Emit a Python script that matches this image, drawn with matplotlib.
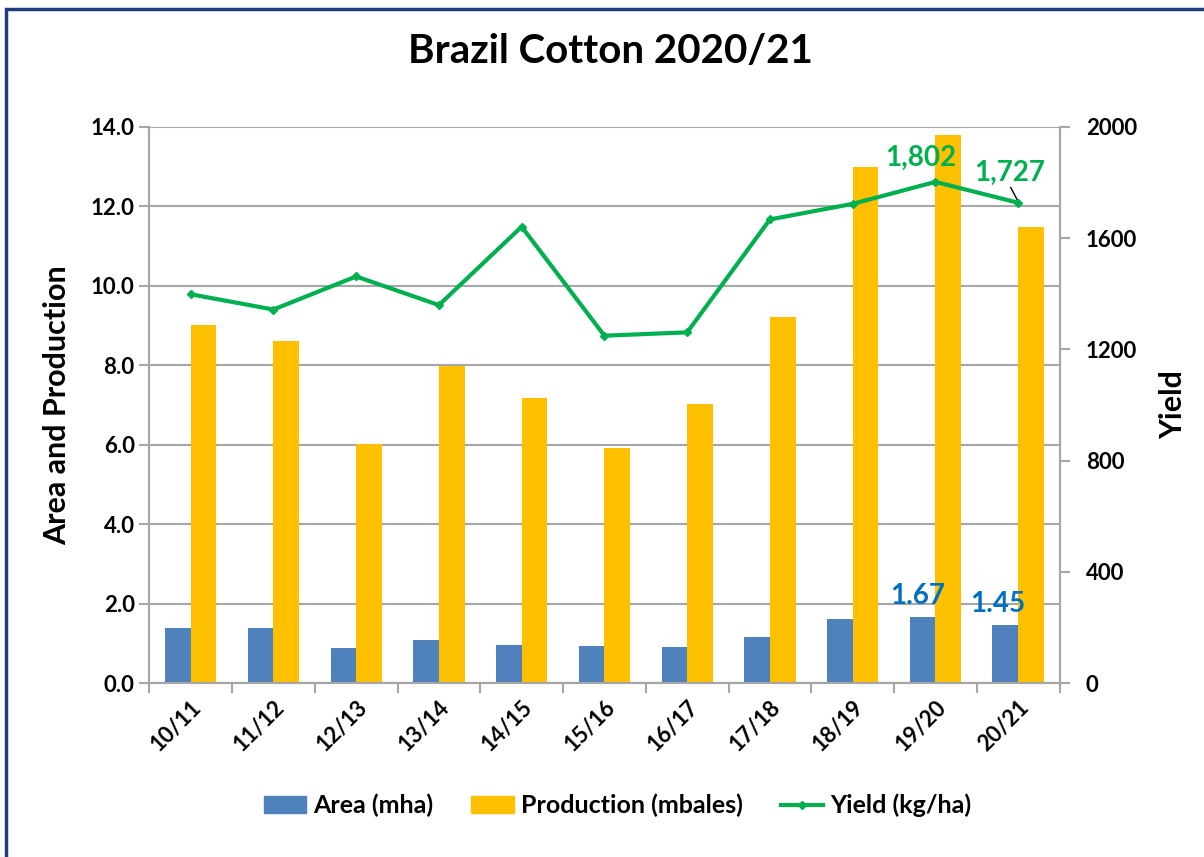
import numpy as np
import matplotlib.pyplot as plt
from matplotlib.lines import Line2D
from matplotlib.patches import Rectangle

plt.rcParams['font.family'] = ['Lato', 'DejaVu Sans']

seasons = ['10/11', '11/12', '12/13', '13/14', '14/15', '15/16',
           '16/17', '17/18', '18/19', '19/20', '20/21']
area = [1.38, 1.38, 0.87, 1.09, 0.96, 0.94, 0.91, 1.16, 1.61, 1.67, 1.45]
production = [9.0, 8.6, 6.01, 7.97, 7.18, 5.92, 7.02, 9.21, 13.0, 13.79, 11.49]
yield_kg = [1398, 1343, 1462, 1359, 1641, 1249, 1261, 1667, 1723, 1802, 1727]

blue = '#4f81bd'
gold = '#ffc000'
green = '#00b050'
grid_c = '#a6a6a6'

fig = plt.figure(figsize=(12.04, 8.57), dpi=100)
ax = fig.add_axes([0.124, 0.203, 0.756, 0.649])
ax2 = ax.twinx()

x = np.arange(len(seasons))
w = 0.31
ax.bar(x - w / 2, area, w, color=blue, zorder=2, label='Area (mha)')
ax.bar(x + w / 2, production, w, color=gold, zorder=2, label='Production (mbales)')
ax2.plot(x, yield_kg, color=green, lw=3, marker='D', ms=4, zorder=3, label='Yield (kg/ha)')

ax.set_xlim(-0.5, len(seasons) - 0.5)
ax.set_ylim(0, 14)
ax.set_yticks(np.arange(0, 14.1, 2))
ax.set_yticklabels([f'{v:.1f}' for v in np.arange(0, 14.1, 2)])
ax2.set_ylim(0, 2000)
ax2.set_yticks(range(0, 2001, 400))

ax.yaxis.grid(True, color=grid_c, lw=1.5, zorder=0)
ax.set_axisbelow(True)
for a in (ax, ax2):
    for s in a.spines.values():
        s.set_color(grid_c)
        s.set_linewidth(1.5)
    a.spines['top'].set_visible(False)
    a.tick_params(colors=grid_c, labelcolor='black', labelsize=16, width=1.5, length=7)
    for t in a.get_yticklabels():
        t.set_fontweight('bold')
ax2.tick_params(pad=12)

ax.set_xticks(np.arange(len(seasons) + 1) - 0.5, minor=False)
ax.set_xticklabels([''] * (len(seasons) + 1))
ax.set_xticks(x, minor=True)
ax.set_xticklabels(seasons, minor=True, rotation=45, ha='right', rotation_mode='anchor',
                   fontsize=16, fontweight='bold')
ax.tick_params(axis='x', which='minor', length=0, pad=10)
ax.tick_params(axis='x', which='major', length=7, direction='out')

ax.set_ylabel('Area and Production', fontsize=22, fontweight='bold', labelpad=14)
ax2.set_ylabel('Yield', fontsize=22, fontweight='bold', labelpad=16)
fig.text(0.507, 0.94, 'Brazil Cotton 2020/21', ha='center', va='center',
         fontsize=29, fontweight='bold')

# data labels
ax2.text(x[9] - 0.18, yield_kg[9] + 40, f'{yield_kg[9]:,}', color=green, fontsize=20,
         fontweight='bold', ha='center', va='bottom')
ax2.text(x[10] - 0.1, yield_kg[10] + 62, f'{yield_kg[10]:,}', color=green, fontsize=20,
         fontweight='bold', ha='center', va='bottom')
ax2.plot([x[10] - 0.09, x[10] - 0.01], [yield_kg[10] + 55, yield_kg[10] + 10], color='black', lw=1)
ax.text(x[9] - 0.22, area[9] + 0.2, f'{area[9]:.2f}', color='#0070c0', fontsize=20,
        fontweight='bold', ha='center', va='bottom')
ax.text(x[10] - 0.25, area[10] + 0.2, f'{area[10]:.2f}', color='#0070c0', fontsize=20,
        fontweight='bold', ha='center', va='bottom')

handles = [Rectangle((0, 0), 1, 1, color=blue), Rectangle((0, 0), 1, 1, color=gold),
           Line2D([], [], color=green, lw=3, marker='D', ms=4)]
labels = ['Area (mha)', 'Production (mbales)', 'Yield (kg/ha)']
fig.legend(handles, labels, loc='center', bbox_to_anchor=(0.513, 0.06), ncol=3, frameon=False,
           prop={'size': 18, 'weight': 'bold'}, handlelength=1.7, columnspacing=1.5,
           handletextpad=0.3)

# outer frame
fig.patches.append(Rectangle((0.005, -0.05), 1.1, 1.04, transform=fig.transFigure,
                             fill=False, edgecolor='#1f3d7a', lw=2.5))

fig.savefig('out.png', dpi=100)
